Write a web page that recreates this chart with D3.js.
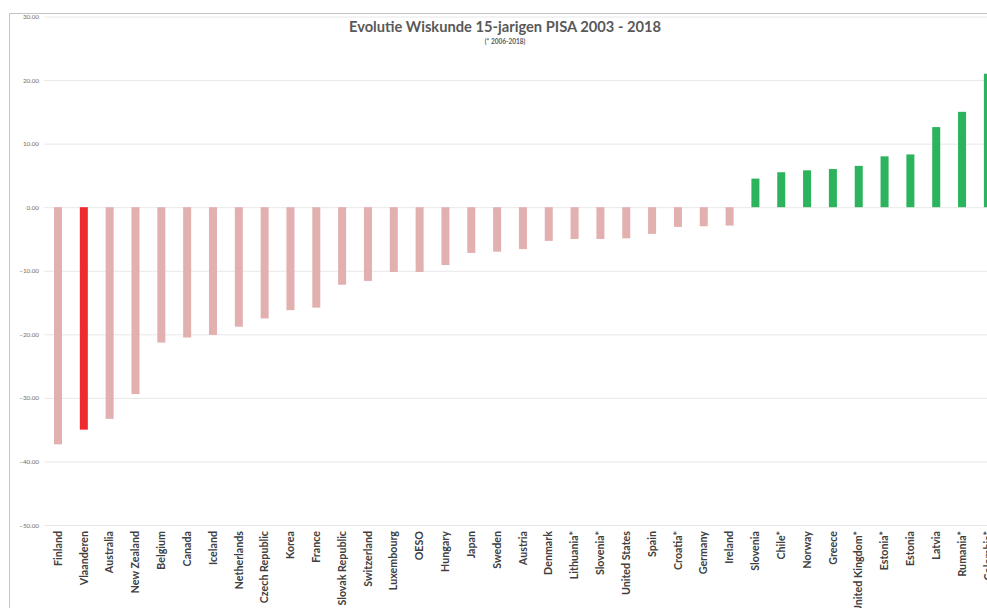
<!DOCTYPE html>
<html>
<head>
<meta charset="utf-8">
<script src="https://cdn.jsdelivr.net/npm/d3@7"></script>
<style>
  body { margin: 0; background: #fff; }
  svg { display: block; }
</style>
</head>
<body>
<svg id="chart"></svg>
<script>
const countries = ["Finland", "Vlaanderen", "Australia", "New Zealand", "Belgium", "Canada",
    "Iceland", "Netherlands", "Czech Republic", "Korea", "France", "Slovak Republic",
    "Switzerland", "Luxembourg", "OESO", "Hungary", "Japan", "Sweden", "Austria", "Denmark",
    "Lithuania*", "Slovenia*", "United States", "Spain", "Croatia*", "Germany", "Ireland",
    "Slovenia", "Chile*", "Norway", "Greece", "United Kingdom*", "Estonia*", "Estonia",
    "Latvia", "Rumania*", "Colombia*"];
const evolution = [-37.3, -35.0, -33.3, -29.4, -21.3, -20.5,
    -20.1, -18.8, -17.5, -16.2, -15.8, -12.2,
    -11.6, -10.2, -10.2, -9.1, -7.2, -7.0, -6.6, -5.3,
    -5.0, -5.0, -4.9, -4.2, -3.1, -3.0, -2.9,
    4.5, 5.5, 5.8, 6.0, 6.5, 8.0, 8.3,
    12.6, 15.0, 21.0];
const yTicks = [30, 20, 10, 0, -10, -20, -30, -40, -50];

const width = 987;
const height = 608;

const svg = d3.select('#chart')
    .attr('width', width)
    .attr('height', height);

// frame of the cropped chart
svg.append('line')
    .attr('x1', 9.5).attr('x2', width).attr('y1', 13.5).attr('y2', 13.5)
    .attr('stroke', '#c4c4c4');
svg.append('line')
    .attr('x1', 9.5).attr('x2', 9.5).attr('y1', 13.5).attr('y2', height)
    .attr('stroke', '#c4c4c4');

const step = 25.83;
const x0 = 58 - step / 2;
const xScale = d3.scaleBand()
    .domain(countries)
    .range([x0, x0 + step * countries.length])
    .paddingInner(0.69)
    .paddingOuter(0.345);

const yScale = d3.scaleLinear()
    .domain([-50, 30])
    .range([525, 16.5]);

// gridlines + labels
const yAxis = d3.axisLeft(yScale)
    .tickValues(yTicks)
    .tickSize(-(width - 44))
    .tickPadding(5)
    .tickFormat(d3.format('.2f'));

const gAxis = svg.append('g')
    .attr('transform', 'translate(44,0)')
    .call(yAxis);
gAxis.select('.domain').remove();
gAxis.selectAll('.tick line').attr('stroke', '#e8e8e8');
gAxis.selectAll('.tick text')
    .attr('fill', '#6e6e6e')
    .style('font-family', 'Lato, sans-serif')
    .style('font-size', '6.3px');

function barColor(d, i) {
    if (countries[i] == 'Vlaanderen') return '#ee2b2e';
    return d < 0 ? '#e3b0b0' : '#2bb45b';
}

svg.append('g')
    .selectAll('rect')
    .data(evolution)
    .enter()
    .append('rect')
    .attr('x', (d, i) => xScale(countries[i]))
    .attr('width', xScale.bandwidth())
    .attr('y', (d) => yScale(Math.max(0, d)))
    .attr('height', (d) => Math.abs(yScale(d) - yScale(0)))
    .attr('fill', barColor);

// category labels
svg.append('g')
    .selectAll('text')
    .data(countries)
    .enter()
    .append('text')
    .attr('transform', (d) => `translate(${xScale(d) + xScale.bandwidth() / 2 + 3.7},531) rotate(-90)`)
    .attr('text-anchor', 'end')
    .attr('fill', '#404040')
    .style('font-family', 'Lato, sans-serif')
    .style('font-weight', 'bold')
    .style('font-size', '10.7px')
    .text((d) => d);

// title
svg.append('text')
    .attr('x', 505).attr('y', 32)
    .attr('text-anchor', 'middle')
    .attr('fill', '#595959')
    .style('font-family', 'Lato, sans-serif')
    .style('font-weight', 'bold')
    .style('font-size', '14.7px')
    .text('Evolutie Wiskunde 15-jarigen PISA 2003 - 2018');

svg.append('text')
    .attr('x', 505).attr('y', 44)
    .attr('text-anchor', 'middle')
    .attr('fill', '#595959')
    .style('font-family', 'Lato, sans-serif')
    .style('font-weight', 'bold')
    .style('font-size', '6.5px')
    .text('(* 2006-2018)');
</script>
</body>
</html>
